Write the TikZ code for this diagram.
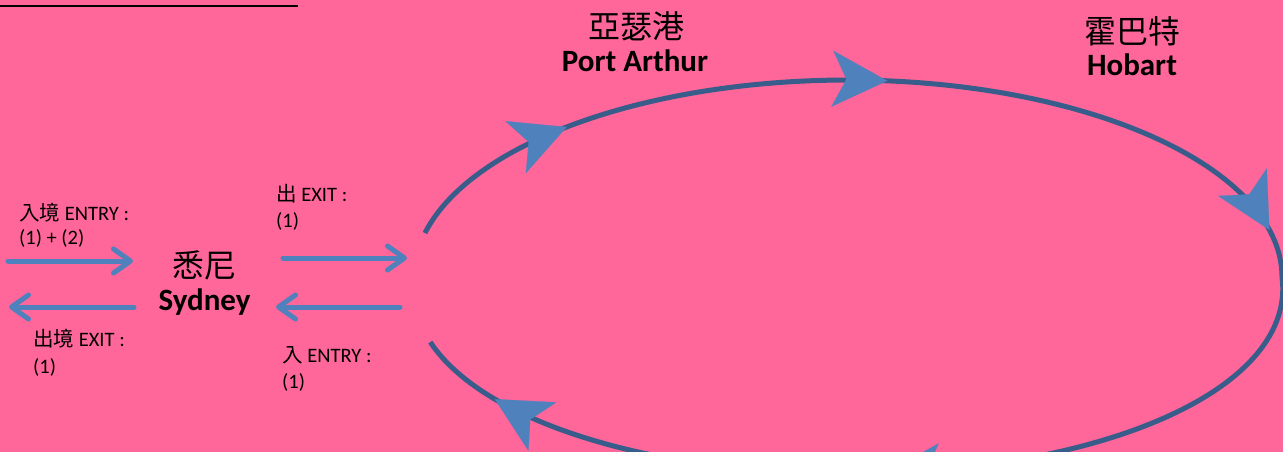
\documentclass[tikz,border=0pt]{standalone}
\usepackage{fontspec}
\setmainfont{Carlito}
\newfontfamily\cjkfont{Noto Sans CJK TC}
\usetikzlibrary{arrows.meta}
\definecolor{bgpink}{HTML}{FF6699}
\definecolor{headblue}{HTML}{4F81BD}
\definecolor{ringblue}{HTML}{385D8A}
\begin{document}
\begin{tikzpicture}[x=1pt,y=-1pt,
  declare function={ringx(\t)=848+434*cos(\t)*(1+0.06*max(sin(\t),0)); ringy(\t)=277+197*sin(\t);},
  flow/.style={draw=headblue, line width=5pt, line cap=round, -{Straight Barb[length=17pt,width=24pt,round]}},
  ring/.style={draw=ringblue, line width=5pt},
  headarrow/.style={draw=headblue, line width=0.2pt, -{Stealth[length=55pt,width=56pt,inset=14pt,fill=headblue]}},
  small/.style={font=\fontsize{20.5}{24}\selectfont, anchor=base west, inner sep=0pt},
  cjkbig/.style={font=\cjkfont\fontsize{32}{38}\selectfont, anchor=base, inner sep=0pt},
  latbig/.style={font=\bfseries\fontsize{31}{37}\selectfont, anchor=base, inner sep=0pt}]

\fill[bgpink] (0,0) rectangle (1283,452);
\useasboundingbox (0,0) rectangle (1283,452);

% title underline (title text cut off at top)
\coordinate (ul0) at (0,6);
\coordinate (ul1) at (298,6);
\draw[black, line width=2pt] (ul0) -- (ul1);

% ring route
\draw[ring] plot[domain=192.9:520.7, samples=300, variable=\t] ({ringx(\t)},{ringy(\t)});

% arrowheads on the ring
\foreach \n/\a in {1/229.6, 2/275.2, 3/346.2, 4/445.4, 5/501.7}{
  \coordinate (h\n a) at ({ringx(\a-1)},{ringy(\a-1)});
  \coordinate (h\n b) at ({ringx(\a)},{ringy(\a)});
  \draw[headarrow] (h\n a) -- (h\n b);
}

% straight arrows
\coordinate (a1s) at (8,261);   \coordinate (a1e) at (133,261);
\coordinate (a2s) at (134,307); \coordinate (a2e) at (9,307);
\coordinate (a3s) at (283,258); \coordinate (a3e) at (407,258);
\coordinate (a4s) at (400,307); \coordinate (a4e) at (276,307);
\draw[flow] (a1s) -- (a1e);
\draw[flow] (a2s) -- (a2e);
\draw[flow] (a3s) -- (a3e);
\draw[flow] (a4s) -- (a4e);

% place names
\node[cjkbig] (sydzh) at (204,277) {悉尼};
\node[latbig] (syden) at (204.5,310) {Sydney};
\node[cjkbig] (pazh) at (636,39) {亞瑟港};
\node[latbig] (paen) at (635,72) {Port Arthur};
\node[cjkbig] (hbzh) at (1132,44) {霍巴特};
\node[latbig] (hben) at (1132,75) {Hobart};

% small labels
\node[small] (l1a) at (19,220) {{\cjkfont 入境} ENTRY :};
\node[small] (l1b) at (19,244) {(1) + (2)};
\node[small] (l2a) at (276,201) {{\cjkfont 出} EXIT :};
\node[small] (l2b) at (276,227) {(1)};
\node[small] (l3a) at (33,346) {{\cjkfont 出境} EXIT :};
\node[small] (l3b) at (33,373) {(1)};
\node[small] (l4a) at (282,362) {{\cjkfont 入} ENTRY :};
\node[small] (l4b) at (282,388) {(1)};
\end{tikzpicture}
\end{document}
